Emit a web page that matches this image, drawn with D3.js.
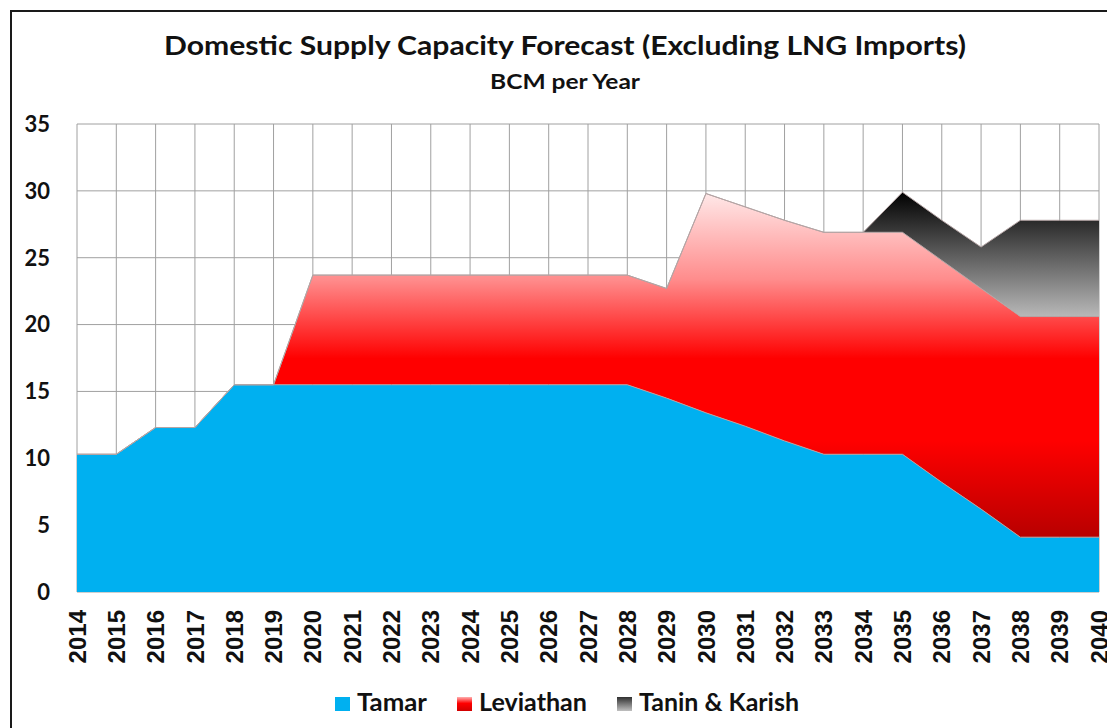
<!DOCTYPE html>
<html>
<head>
<meta charset="utf-8">
<script src="https://cdn.jsdelivr.net/npm/d3@7"></script>
<style>
    body { margin: 0; background: white; }
</style>
</head>
<body>
<div id="chart"></div>
<script>
var years = [2014, 2015, 2016, 2017, 2018, 2019, 2020, 2021, 2022, 2023, 2024, 2025, 2026,
    2027, 2028, 2029, 2030, 2031, 2032, 2033, 2034, 2035, 2036, 2037, 2038, 2039, 2040];
var tamar = [10.3, 10.3, 12.3, 12.3, 15.5, 15.5, 15.5, 15.5, 15.5, 15.5, 15.5, 15.5, 15.5,
    15.5, 15.5, 14.5, 13.4, 12.4, 11.3, 10.3, 10.3, 10.3, 8.2, 6.2, 4.1, 4.1, 4.1];
var leviathan = [0, 0, 0, 0, 0, 0, 8.2, 8.2, 8.2, 8.2, 8.2, 8.2, 8.2,
    8.2, 8.2, 8.2, 16.4, 16.4, 16.5, 16.6, 16.6, 16.6, 16.6, 16.5, 16.5, 16.5, 16.5];
var taninKarish = [0, 0, 0, 0, 0, 0, 0, 0, 0, 0, 0, 0, 0,
    0, 0, 0, 0, 0, 0, 0, 0, 3.0, 3.0, 3.1, 7.2, 7.2, 7.2];
var seriesNames = ["Tamar", "Leviathan", "Tanin & Karish"];
var yTicks = [0, 5, 10, 15, 20, 25, 30, 35];

var width = 1107, height = 728;
var margin = {top: 124, right: 8, bottom: 136, left: 77};

var svg = d3.select("#chart")
    .append("svg")
    .attr("width", width)
    .attr("height", height);

// gradients
var defs = svg.append("defs");
var x = d3.scalePoint()
    .domain(years)
    .range([margin.left, width - margin.right]);
var y = d3.scaleLinear()
    .domain([0, 35])
    .range([height - margin.bottom, margin.top]);

var redGrad = defs.append("linearGradient")
    .attr("id", "redGrad")
    .attr("gradientUnits", "userSpaceOnUse")
    .attr("x1", 0).attr("x2", 0)
    .attr("y1", y(29.8)).attr("y2", y(4.1));
[[0, "#ffe8e8"], [0.25, "#ff8c8c"], [0.48, "#ff0000"], [0.72, "#ff0000"], [1, "#b80000"]].forEach(function(s) {
    redGrad.append("stop").attr("offset", s[0]).attr("stop-color", s[1]);
});
var greyGrad = defs.append("linearGradient")
    .attr("id", "greyGrad")
    .attr("gradientUnits", "userSpaceOnUse")
    .attr("x1", 0).attr("x2", 0)
    .attr("y1", y(29.9)).attr("y2", y(20.6));
[[0, "#000000"], [1, "#b8b8b8"]].forEach(function(s) {
    greyGrad.append("stop").attr("offset", s[0]).attr("stop-color", s[1]);
});
var redKey = defs.append("linearGradient")
    .attr("id", "redKey").attr("x1", 0).attr("x2", 0).attr("y1", 0).attr("y2", 1);
[[0, "#ffb0b0"], [0.45, "#ff0000"], [1, "#d00000"]].forEach(function(s) {
    redKey.append("stop").attr("offset", s[0]).attr("stop-color", s[1]);
});
var greyKey = defs.append("linearGradient")
    .attr("id", "greyKey").attr("x1", 0).attr("x2", 0).attr("y1", 0).attr("y2", 1);
[[0, "#303030"], [1, "#c0c0c0"]].forEach(function(s) {
    greyKey.append("stop").attr("offset", s[0]).attr("stop-color", s[1]);
});
var fills = ["#00b0f0", "url(#redGrad)", "url(#greyGrad)"];
var keyFills = ["#00b0f0", "url(#redKey)", "url(#greyKey)"];

// outer frame
svg.append("rect")
    .attr("x", 11).attr("y", 11)
    .attr("width", width + 20).attr("height", height + 20)
    .attr("fill", "none")
    .attr("stroke", "#1a1a1a")
    .attr("stroke-width", 2);

// grid
svg.append("g")
    .selectAll("line")
    .data(years)
    .join("line")
    .attr("x1", function(d) { return x(d); })
    .attr("x2", function(d) { return x(d); })
    .attr("y1", y(0)).attr("y2", y(35))
    .attr("stroke", "#a0a0a0");
svg.append("g")
    .selectAll("line")
    .data(yTicks)
    .join("line")
    .attr("x1", x(2014)).attr("x2", x(2040))
    .attr("y1", function(d) { return y(d); })
    .attr("y2", function(d) { return y(d); })
    .attr("stroke", "#a0a0a0");

// stacked areas
var table = years.map(function(yr, i) {
    return {year: yr, "Tamar": tamar[i], "Leviathan": leviathan[i], "Tanin & Karish": taninKarish[i]};
});
var stacked = d3.stack().keys(seriesNames)(table);
var area = d3.area()
    .x(function(d) { return x(d.data.year); })
    .y0(function(d) { return y(d[0]); })
    .y1(function(d) { return y(d[1]); });
var edge = d3.line()
    .x(function(d) { return x(d.data.year); })
    .y(function(d) { return y(d[1]); })
    .defined(function(d) { return d[1] - d[0] > 0 || true; });

svg.append("g")
    .selectAll("path")
    .data(stacked)
    .join("path")
    .attr("d", area)
    .attr("fill", function(d, i) { return fills[i]; });
svg.append("g")
    .selectAll("path")
    .data(stacked)
    .join("path")
    .attr("d", edge)
    .attr("fill", "none")
    .attr("stroke", "#b4a4a4")
    .attr("stroke-width", 1);

// y labels
svg.append("g")
    .selectAll("text")
    .data(yTicks)
    .join("text")
    .attr("x", 50)
    .attr("y", function(d) { return y(d); })
    .attr("dy", "0.36em")
    .attr("text-anchor", "end")
    .style("font-family", "Lato, 'Open Sans', sans-serif")
    .style("font-weight", "bold")
    .style("font-size", "22px")
    .style("fill", "#111")
    .text(function(d) { return d; });

// x labels
svg.append("g")
    .selectAll("text")
    .data(years)
    .join("text")
    .attr("transform", function(d) { return "translate(" + x(d) + "," + 610 + ") rotate(-90)"; })
    .attr("dy", "0.36em")
    .attr("text-anchor", "end")
    .style("font-family", "'Liberation Sans', Arial, sans-serif")
    .style("font-weight", "bold")
    .style("font-size", "24px")
    .style("fill", "#111")
    .text(function(d) { return d; });

// title
svg.append("text")
    .attr("x", 565)
    .attr("y", 55)
    .attr("text-anchor", "middle")
    .attr("textLength", 802)
    .attr("lengthAdjust", "spacingAndGlyphs")
    .style("font-family", "Lato, 'Open Sans', sans-serif")
    .style("font-weight", "bold")
    .style("font-size", "27px")
    .style("fill", "#111")
    .text("Domestic Supply Capacity Forecast (Excluding LNG Imports)");
svg.append("text")
    .attr("x", 565)
    .attr("y", 89)
    .attr("text-anchor", "middle")
    .attr("textLength", 150)
    .attr("lengthAdjust", "spacingAndGlyphs")
    .style("font-family", "Lato, 'Open Sans', sans-serif")
    .style("font-weight", "bold")
    .style("font-size", "20px")
    .style("fill", "#111")
    .text("BCM per Year");

// legend
var keyX = [335, 457, 617];
var keyW = [70, 108, 160];
var legend = svg.append("g")
    .selectAll("g")
    .data(seriesNames)
    .join("g")
    .attr("transform", function(d, i) { return "translate(" + keyX[i] + ",697)"; });
legend.append("rect")
    .attr("width", 15).attr("height", 14)
    .attr("fill", function(d, i) { return keyFills[i]; });
legend.append("text")
    .attr("x", 22)
    .attr("y", 14)
    .attr("textLength", function(d, i) { return keyW[i]; })
    .attr("lengthAdjust", "spacingAndGlyphs")
    .style("font-family", "Lato, 'Open Sans', sans-serif")
    .style("font-weight", "bold")
    .style("font-size", "24px")
    .style("fill", "#111")
    .text(function(d) { return d; });
</script>
</body>
</html>
